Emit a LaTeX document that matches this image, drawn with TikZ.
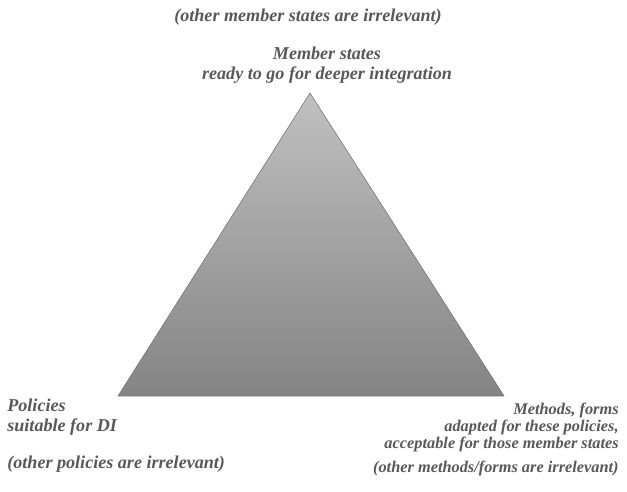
\documentclass[tikz,border=0pt]{standalone}
\usepackage{fontspec}
\setmainfont{Liberation Serif}
\usepackage{tikz}
\usetikzlibrary{positioning}
\definecolor{notegray}{RGB}{88,88,88}
\definecolor{tritop}{RGB}{192,192,192}
\definecolor{tribottom}{RGB}{132,132,132}

\begin{document}
\begin{tikzpicture}[
    x=0.02cm, y=-0.02cm,
    note/.style={font=\bfseries\itshape\fontsize{10.3}{11.4}\selectfont, text=notegray, inner sep=0pt},
    small note/.style={note, font=\bfseries\itshape\fontsize{9.3}{9.6}\selectfont}
]
    \useasboundingbox (0,0) rectangle (627,492);

    % Corners of the triangle
    \coordinate (apex) at (310,93);
    \coordinate (policies) at (118,396);
    \coordinate (methods) at (504,396);
    \shade[top color=tritop, bottom color=tribottom, draw=tribottom!85!black, line width=0.3pt]
        (apex) -- (policies) -- (methods) -- cycle;

    % Labels
    \node[note, align=center, anchor=south] (members) at (327,84) {Member states\\ready to go for deeper integration};
    \node[note, anchor=base] (othermembers) at (308,22) {(other member states are irrelevant)};
    \node[note, align=left, anchor=north west] (pollabel) at (7,399) {Policies\\suitable for DI};
    \node[note, below=0.38cm of pollabel.south west, anchor=north west] (otherpol) {(other policies are irrelevant)};
    \node[small note, align=right, anchor=north east] (methlabel) at (619,403) {Methods, forms\\adapted for these policies,\\acceptable for those member states};
    \node[small note, below=0.16cm of methlabel.south east, anchor=north east] (othermeth) {(other methods/forms are irrelevant)};
\end{tikzpicture}
\end{document}
